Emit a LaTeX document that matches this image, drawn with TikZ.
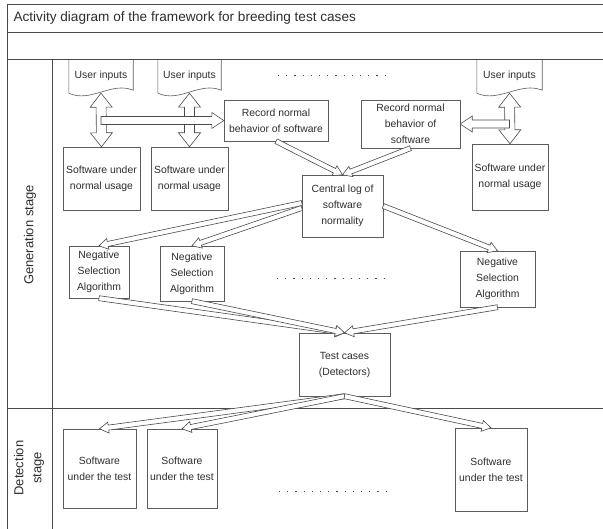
\documentclass[tikz,border=0pt]{standalone}
\usepackage{fontspec}
\setmainfont{Liberation Sans}
\usetikzlibrary{calc}

\definecolor{linegray}{HTML}{4A4A4A}
\definecolor{boxgray}{HTML}{5C5C5C}
\definecolor{textgray}{HTML}{2E2E2E}

% hollow block arrow: start, end, half shaft, half head, head length
\newcommand{\blockarrow}[5]{%
  \path (#1) coordinate (baS) (#2) coordinate (baE);
  \path ($(baE)!#5!(baS)$) coordinate (baH);
  \draw[harrow] ($(baS)!#3!90:(baE)$) -- ($(baH)!#3!90:(baE)$) -- ($(baH)!#4!90:(baE)$)
    -- (baE) -- ($(baH)!#4!-90:(baE)$) -- ($(baH)!#3!-90:(baE)$) -- ($(baS)!#3!-90:(baE)$) -- cycle;}
% same, with a head at both ends
\newcommand{\dblarrow}[5]{%
  \path (#1) coordinate (daA) (#2) coordinate (daB);
  \path ($(daA)!#5!(daB)$) coordinate (daP) ($(daB)!#5!(daA)$) coordinate (daQ);
  \draw[harrow] (daA) -- ($(daP)!#4!90:(daB)$) -- ($(daP)!#3!90:(daB)$) -- ($(daQ)!#3!-90:(daA)$)
    -- ($(daQ)!#4!-90:(daA)$) -- (daB) -- ($(daQ)!#4!90:(daA)$) -- ($(daQ)!#3!90:(daA)$)
    -- ($(daP)!#3!-90:(daB)$) -- ($(daP)!#4!-90:(daB)$) -- cycle;}

\begin{document}
\begin{tikzpicture}[
    x=1pt, y=-1pt,
    box/.style={draw=boxgray, fill=white, align=center, inner sep=1pt,
                font=\fontsize{10.4pt}{16pt}\selectfont, text=textgray},
    doc/.style={inner sep=0pt, minimum height=34pt, align=center,
                font=\fontsize{10.4pt}{16pt}\selectfont, text=textgray},
    label/.style={font=\fontsize{13pt}{18pt}\selectfont, text=textgray, align=center},
    harrow/.style={draw=linegray, fill=white, line width=0.6pt, line join=miter},
    frame/.style={draw=linegray, line width=0.9pt},
    dotrow/.style={draw=linegray, line width=0.8pt, dash pattern=on 1.2pt off 7pt},
]
    \useasboundingbox (0,0) rectangle (603,529);

    % swimlane frame
    \draw[frame] (603,4) -- (7,4) -- (7,529);
    \draw[frame] (7,32) -- (603,32);
    \draw[frame] (7,59) -- (603,59);
    \draw[frame] (7,408) -- (603,408);
    \draw[frame] (52,59) -- (52,529);

    \node[label, anchor=west, font=\fontsize{13.6pt}{18pt}\selectfont] (title) at (10,18) {Activity diagram of the framework for breeding test cases};
    \node[label, rotate=90] (gen) at (30,235) {Generation stage};
    \node[label, rotate=90] (det) at (29,468) {Detection\\stage};

    % generation stage
    \node[doc, minimum width=64pt] (ui1) at (101,76) {User inputs};
    \node[doc, minimum width=63pt] (ui2) at (189.5,76) {User inputs};
    \node[doc, minimum width=65pt] (ui3) at (509.5,76) {User inputs};
    \foreach \d in {ui1, ui2, ui3}
        \draw[draw=boxgray, line width=0.6pt] (\d.north west) -- (\d.south west)
            .. controls ($(\d.south west)+(22,10)$) and ($(\d.south east)+(-22,-12)$) .. ($(\d.south east)+(0,-3)$)
            -- (\d.north east);

    \node[box, minimum width=77pt, minimum height=63pt] (sw1) at (101.5,178.5) {Software under\\normal usage};
    \node[box, minimum width=77pt, minimum height=63pt] (sw2) at (189.5,178.5) {Software under\\normal usage};
    \node[box, minimum width=76pt, minimum height=66pt] (sw3) at (510,177) {Software under\\normal usage};

    \node[box, minimum width=104pt, minimum height=41pt] (rec1) at (276,120.5) {Record normal\\behavior of software};
    \node[box, minimum width=99pt, minimum height=48pt] (rec2) at (410.5,124) {Record normal\\behavior of\\software};

    \node[box, minimum width=81pt, minimum height=62pt] (log) at (342.5,206) {Central log of\\software\\normality};

    \node[box, minimum width=60pt, minimum height=52pt] (nsa1) at (99,272) {Negative\\Selection\\Algorithm};
    \node[box, minimum width=64pt, minimum height=55pt] (nsa2) at (192,273.5) {Negative\\Selection\\Algorithm};
    \node[box, minimum width=75pt, minimum height=56pt] (nsa3) at (497.5,279) {Negative\\Selection\\Algorithm};

    \node[box, minimum width=91pt, minimum height=63pt] (test) at (344.5,364.5) {Test cases\\(Detectors)};

    % detection stage
    \node[box, minimum width=73pt, minimum height=79pt] (dt1) at (99.5,468.5) {Software\\under the test};
    \node[box, minimum width=70pt, minimum height=79pt] (dt2) at (182,468.5) {Software\\under the test};
    \node[box, minimum width=72pt, minimum height=83pt] (dt3) at (491,469.5) {Software\\under the test};

    \draw[dotrow] (278,75) -- (392,75);
    \draw[dotrow] (277,278) -- (390,278);
    \draw[dotrow] (279,491) -- (390,491);

    % connectors
    \foreach \a/\b in {ui1/sw1, ui2/sw2, ui3/sw3}
        \dblarrow{\a.south}{\b.north}{5pt}{11pt}{14pt};
    \coordinate (j1) at (ui1.south |- rec1.west);
    \coordinate (j3) at (ui3.south |- rec2.east);
    \blockarrow{j1}{rec1.west}{4pt}{8pt}{12pt};
    \blockarrow{j3}{rec2.east}{4pt}{8pt}{12pt};

    \foreach \a in {rec1, rec2}
        \blockarrow{\a.south}{log.north}{2.5pt}{5.5pt}{9pt};
    \blockarrow{$(log.west)+(0,-3)$}{nsa1.north}{2.5pt}{5.5pt}{9pt};
    \blockarrow{$(log.west)+(0,2)$}{nsa2.north}{2.5pt}{5.5pt}{9pt};
    \blockarrow{log.east}{nsa3.north}{2.5pt}{5.5pt}{9pt};
    \foreach \a in {nsa1, nsa2, nsa3}
        \blockarrow{\a.south}{test.north}{2.5pt}{5.5pt}{9pt};
    \foreach \b in {dt1, dt2, dt3}
        \blockarrow{test.south}{\b.north}{2.5pt}{5.5pt}{9pt};
\end{tikzpicture}
\end{document}
